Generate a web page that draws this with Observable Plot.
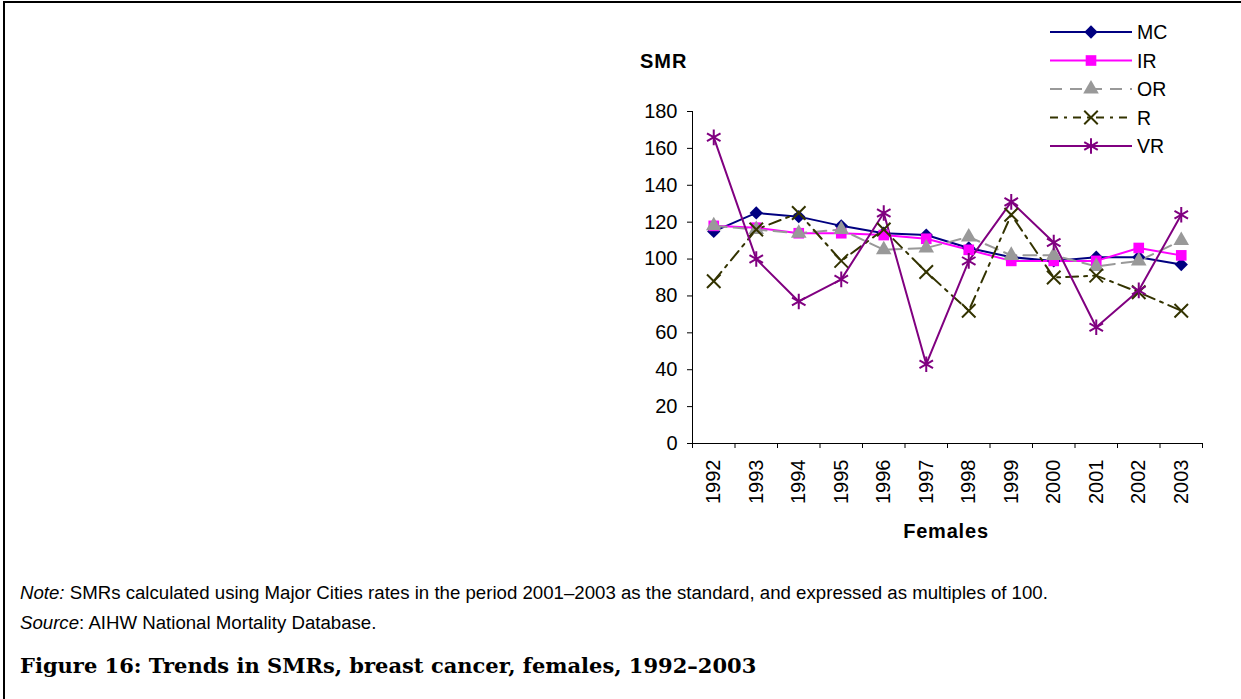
<!DOCTYPE html>
<html>
<head>
<meta charset="utf-8">
<script src="https://cdn.jsdelivr.net/npm/d3@7"></script>
<script src="https://cdn.jsdelivr.net/npm/@observablehq/plot@0.6"></script>
<style>
  html, body { margin: 0; padding: 0; background: #fff; }
  #page { position: relative; width: 1241px; height: 699px; overflow: hidden; font-family: "Liberation Sans", Arial, sans-serif; }
  #border { position: absolute; left: 3px; top: 1px; width: 1240px; height: 700px; border-left: 2px solid #000; border-top: 2px solid #000; }
  #chart { position: absolute; left: 0; top: 0; }
  #legend { position: absolute; left: 0; top: 0; }
  .foot { position: absolute; left: 20px; white-space: nowrap; line-height: 1; color: #000; }
  .note { font-size: 18.65px; }
  .cap { font-family: "DejaVu Serif", "Liberation Serif", serif; font-weight: bold; font-size: 21px; }
</style>
</head>
<body>
<div id="page">
  <div id="border"></div>
  <div id="chart"></div>
  <svg id="legend" width="1241" height="170"></svg>
  <div class="foot note" style="top:584px"><i>Note:</i> SMRs calculated using Major Cities rates in the period 2001–2003 as the standard, and expressed as multiples of 100.</div>
  <div class="foot note" style="top:614px"><i>Source</i>: AIHW National Mortality Database.</div>
  <div class="foot cap" style="top:655px">Figure 16: Trends in SMRs, breast cancer, females, 1992–2003</div>
</div>
<script>
const years = [1992, 1993, 1994, 1995, 1996, 1997, 1998, 1999, 2000, 2001, 2002, 2003];
const seriesNames = ["MC", "IR", "OR", "R", "VR"];
const MC = [115, 125, 123, 118, 114, 113, 106, 101, 99, 101, 101, 97];
const IR = [118, 117, 114, 114, 113, 111, 105, 99, 99, 99, 106, 102];
const OR = [118, 116, 114, 116, 105, 106, 112, 102, 102, 96, 99, 110];
const R  = [88, 116, 125, 99, 116, 93, 72, 124, 90, 91, 82, 72];
const VR = [166, 100, 77, 89, 125, 43, 99, 131, 109, 63, 83, 124];
const yTicks = [0, 20, 40, 60, 80, 100, 120, 140, 160, 180];
const yTitle = "SMR";
const xTitle = "Females";

const values = {MC, IR, OR, R, VR};
const styles = {
  MC: {color: "#000080", dash: null, symbol: "diamond2", r: 6.0, filled: true},
  IR: {color: "#FF00FF", dash: null, symbol: "square", r: 6.0, filled: true},
  OR: {color: "#999999", dash: "13,7", symbol: "triangle", r: 5.8, filled: true},
  R:  {color: "#333300", dash: "12,6,3,6", symbol: "times", r: 6.2, filled: false},
  VR: {color: "#800080", dash: null, symbol: "asterisk", r: 7.4, filled: false}
};
const rows = s => years.map((yr, i) => ({year: yr, value: values[s][i]}));
const bounds = d3.range(years.length + 1).map(i => years[0] - 0.5 + i);

const marks = [];
for (const s of seriesNames) {
  const st = styles[s];
  marks.push(Plot.line(rows(s), {x: "year", y: "value", stroke: st.color, strokeWidth: 2, strokeDasharray: st.dash}));
}
for (const s of seriesNames) {
  const st = styles[s];
  marks.push(Plot.dot(rows(s), st.filled
    ? {x: "year", y: "value", symbol: () => st.symbol, r: st.r, fill: st.color, stroke: "none"}
    : {x: "year", y: "value", symbol: () => st.symbol, r: st.r, stroke: st.color, strokeWidth: 2, fill: "none"}));
}

const plot = Plot.plot({
  width: 1241,
  height: 560,
  marginLeft: 692,
  marginRight: 39,
  marginTop: 111,
  marginBottom: 117,
  style: {fontFamily: "'Liberation Sans', Arial, sans-serif", fontSize: "20px", color: "#000", background: "transparent", overflow: "visible"},
  x: {domain: [bounds[0], bounds[bounds.length - 1]]},
  y: {domain: [0, 180]},
  symbol: {type: "identity"},
  marks: [
    Plot.ruleY([0], {stroke: "#000", strokeWidth: 1}),
    Plot.ruleX([bounds[0]], {stroke: "#000", strokeWidth: 1}),
    Plot.axisY({ticks: yTicks, tickSize: 5, tickPadding: 10, label: null, stroke: "#000"}),
    Plot.axisX({ticks: bounds, tickSize: 5, tickFormat: () => "", label: null, stroke: "#000"}),
    Plot.axisX({ticks: years, tickSize: 0, tickPadding: 16, tickRotate: -90, tickFormat: d => String(d), label: null}),
    ...marks
  ]
});
document.getElementById("chart").appendChild(plot);

const svg = d3.select(plot);
const xs = plot.scale("x");
const ys = plot.scale("y");
svg.append("text")
  .attr("x", 640).attr("y", ys.apply(180) - 43)
  .attr("text-anchor", "start")
  .attr("font-weight", "bold").attr("font-size", 20).attr("letter-spacing", "1px").attr("fill", "#000")
  .text(yTitle);
svg.append("text")
  .attr("x", (xs.apply(bounds[0]) + xs.apply(bounds[bounds.length - 1])) / 2 - 1)
  .attr("y", ys.apply(0) + 95)
  .attr("text-anchor", "middle")
  .attr("font-weight", "bold").attr("font-size", 20).attr("letter-spacing", "0.8px").attr("fill", "#000")
  .text(xTitle);

// Legend
const symMap = {diamond2: d3.symbolDiamond2, square: d3.symbolSquare, triangle: d3.symbolTriangle, times: d3.symbolTimes, asterisk: d3.symbolAsterisk};
const lg = d3.select("#legend");
seriesNames.forEach((s, i) => {
  const st = styles[s];
  const cy = 32 + i * 28.5;
  const g = lg.append("g");
  g.append("line").attr("x1", 1050).attr("x2", 1132).attr("y1", cy).attr("y2", cy)
    .attr("stroke", st.color).attr("stroke-width", 2)
    .attr("stroke-dasharray", st.dash === null ? null : (s === "R" ? "8,6,3,6" : "12,8"));
  const path = d3.symbol(symMap[st.symbol], Math.PI * st.r * st.r)();
  const m = g.append("path").attr("d", path).attr("transform", `translate(1091,${cy})`);
  if (st.filled) m.attr("fill", st.color);
  else m.attr("fill", "none").attr("stroke", st.color).attr("stroke-width", 2);
  g.append("text").attr("x", 1137).attr("y", cy + 7).attr("font-size", 19.5)
    .attr("font-family", "'Liberation Sans', Arial, sans-serif").attr("fill", "#000").text(s);
});
</script>
</body>
</html>
